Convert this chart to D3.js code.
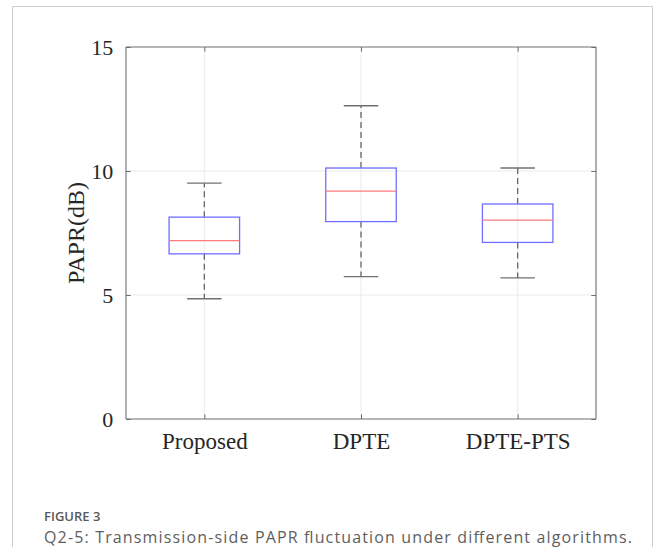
<!DOCTYPE html>
<html>
<head>
<meta charset="utf-8">
<script src="https://cdn.jsdelivr.net/npm/d3@7"></script>
<style>
  html, body { margin: 0; padding: 0; background: #fff; }
  svg { display: block; }
</style>
</head>
<body>
<svg id="chart" width="660" height="547"></svg>
<script>
"use strict";

// box summaries: lower whisker, q1, median, q3, upper whisker
var categories = ['Proposed', 'DPTE', 'DPTE-PTS'];
var whiskerLow = [4.85, 5.74, 5.69];
var quartile1 = [6.66, 7.96, 7.12];
var medians = [7.19, 9.19, 8.02];
var quartile3 = [8.14, 10.12, 8.67];
var whiskerHigh = [9.51, 12.63, 10.12];
var yTicks = [0, 5, 10, 15];
var yLabel = 'PAPR(dB)';
var figureLabel = 'FIGURE 3';
var caption = 'Q2-5: Transmission-side PAPR fluctuation under different algorithms.';

var svg = d3.select('#chart');

var margin = { left: 126, top: 47 };
var width = 470, height = 372;

// card outline round the figure
svg.append('rect')
    .attr('x', 12.5)
    .attr('y', 6.5)
    .attr('width', 640)
    .attr('height', 600)
    .attr('fill', 'none')
    .attr('stroke', '#cfcfcf')
    .attr('stroke-width', 1);

var x = d3.scaleLinear().domain([0.5, categories.length + 0.5]).range([0, width]);
var y = d3.scaleLinear().domain([0, 15]).range([height, 0]);

var g = svg.append('g')
    .attr('transform', 'translate(' + margin.left + ',' + margin.top + ')');

var xIdx = categories.map(function(d, i) { return i + 1; });

// grid
g.append('g')
    .selectAll('line')
    .data(yTicks.slice(1, -1))
    .join('line')
    .attr('x1', 0).attr('x2', width)
    .attr('y1', function(d) { return y(d); })
    .attr('y2', function(d) { return y(d); })
    .attr('stroke', '#ebebeb');

g.append('g')
    .selectAll('line')
    .data(xIdx)
    .join('line')
    .attr('x1', function(d) { return x(d); })
    .attr('x2', function(d) { return x(d); })
    .attr('y1', 0).attr('y2', height)
    .attr('stroke', '#ebebeb');

var tickLen = 4.7;
var frameColor = '#6e6e6e';
var serif = '"Liberation Serif", "Times New Roman", serif';

// axes with inward ticks
var axisLeftG = g.append('g')
    .call(d3.axisLeft(y).tickValues(yTicks).tickSize(-tickLen).tickPadding(8 + tickLen).tickFormat(d3.format('d')));
var axisRightG = g.append('g')
    .attr('transform', 'translate(' + width + ',0)')
    .call(d3.axisRight(y).tickValues(yTicks).tickSize(-tickLen).tickFormat(''));
var axisBottomG = g.append('g')
    .attr('transform', 'translate(0,' + height + ')')
    .call(d3.axisBottom(x).tickValues(xIdx).tickSize(-tickLen).tickPadding(9 + tickLen)
        .tickFormat(function(d) { return categories[d - 1]; }));
var axisTopG = g.append('g')
    .call(d3.axisTop(x).tickValues(xIdx).tickSize(-tickLen).tickFormat(''));

[axisLeftG, axisRightG, axisBottomG, axisTopG].forEach(function(a) {
    a.select('.domain').attr('stroke', frameColor).attr('stroke-width', 1.1);
    a.selectAll('.tick line').attr('stroke', frameColor);
    a.selectAll('.tick text')
        .attr('fill', '#262626')
        .style('font-family', serif)
        .style('font-size', '22px');
});
axisLeftG.select('.domain').attr('d', 'M0,' + height + 'V0');
axisRightG.select('.domain').attr('d', 'M0,' + height + 'V0');
axisBottomG.select('.domain').attr('d', 'M0,0H' + width);
axisTopG.select('.domain').attr('d', 'M0,0H' + width);
axisBottomG.selectAll('.tick text').style('font-size', '23px');

// y axis title
svg.append('text')
    .attr('transform', 'translate(84,233) rotate(-90)')
    .attr('text-anchor', 'middle')
    .attr('fill', '#262626')
    .style('font-family', serif)
    .style('font-size', '24px')
    .text(yLabel);

// boxes
var boxHalf = 0.225, capHalf = 0.11;
var boxes = g.append('g')
    .selectAll('g')
    .data(categories.map(function(c, i) {
        return { i: i + 1, lo: whiskerLow[i], q1: quartile1[i], med: medians[i], q3: quartile3[i], hi: whiskerHigh[i] };
    }))
    .join('g')
    .attr('class', 'box');

// dashed whiskers
[['q3', 'hi'], ['q1', 'lo']].forEach(function(k) {
    boxes.append('line')
        .attr('x1', function(d) { return x(d.i); })
        .attr('x2', function(d) { return x(d.i); })
        .attr('y1', function(d) { return y(d[k[0]]); })
        .attr('y2', function(d) { return y(d[k[1]]); })
        .attr('stroke', '#666')
        .attr('stroke-width', 1.3)
        .attr('stroke-dasharray', '6,4');
});

// caps
['lo', 'hi'].forEach(function(k) {
    boxes.append('line')
        .attr('x1', function(d) { return x(d.i - capHalf); })
        .attr('x2', function(d) { return x(d.i + capHalf); })
        .attr('y1', function(d) { return y(d[k]); })
        .attr('y2', function(d) { return y(d[k]); })
        .attr('stroke', '#707070')
        .attr('stroke-width', 1.4);
});

boxes.append('rect')
    .attr('x', function(d) { return x(d.i - boxHalf); })
    .attr('width', function(d) { return x(d.i + boxHalf) - x(d.i - boxHalf); })
    .attr('y', function(d) { return y(d.q3); })
    .attr('height', function(d) { return y(d.q1) - y(d.q3); })
    .attr('fill', 'none')
    .attr('stroke', '#6e6eff')
    .attr('stroke-width', 1.3);

boxes.append('line')
    .attr('x1', function(d) { return x(d.i - boxHalf); })
    .attr('x2', function(d) { return x(d.i + boxHalf); })
    .attr('y1', function(d) { return y(d.med); })
    .attr('y2', function(d) { return y(d.med); })
    .attr('stroke', '#ff7a7a')
    .attr('stroke-width', 1.3);

// caption
svg.append('text')
    .attr('x', 44)
    .attr('y', 521)
    .attr('fill', '#595959')
    .style('font-family', '"Open Sans", sans-serif')
    .style('font-weight', 600)
    .style('font-size', '13px')
    .text(figureLabel);

svg.append('text')
    .attr('x', 44)
    .attr('y', 542.5)
    .attr('fill', '#5e5e5e')
    .attr('textLength', 588)
    .attr('lengthAdjust', 'spacing')
    .style('font-family', '"Open Sans", sans-serif')
    .style('font-size', '16px')
    .text(caption);
</script>
</body>
</html>
